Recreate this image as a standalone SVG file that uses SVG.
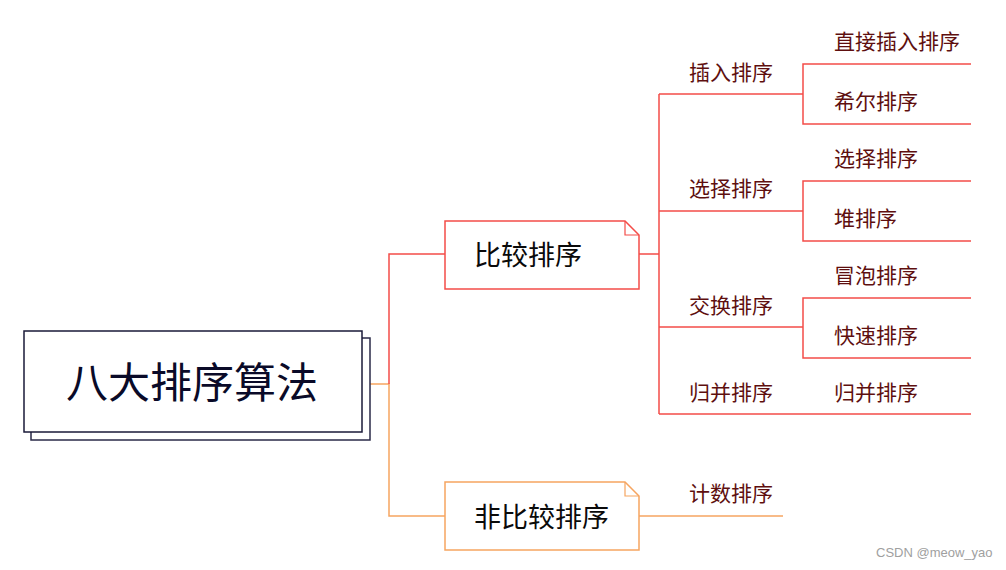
<svg xmlns="http://www.w3.org/2000/svg" width="1006" height="570" viewBox="0 0 1006 570">
<style>
.t{font-family:"Noto Sans CJK SC","Microsoft YaHei",sans-serif;}
.lbl{font-size:21px;fill:#5e0f0f;}
.red{stroke:#f44c48;stroke-width:1.5;fill:none;}
.org{stroke:#f6a560;stroke-width:1.5;fill:none;}
</style>
<rect width="1006" height="570" fill="#ffffff"/>
<g id="connectors">
<path class="org" d="M370 384 H389 V516 H445"/>
<path class="red" d="M389 384 V254 H445"/>
<path class="red" d="M639 254 H659 M659 94 V414"/>
<path class="red" d="M659 94 H803 M659 211 H803 M659 327 H803 M659 414 H971"/>
<path class="red" d="M971 64 H803 V124 H971"/>
<path class="red" d="M971 181 H803 V241 H971"/>
<path class="red" d="M971 298 H803 V358 H971"/>
<path class="org" d="M639 516 H783"/>
</g>
<g id="root">
<rect x="31" y="338" width="339" height="102" fill="#ffffff" stroke="#2a2a48" stroke-width="1.5"/>
<rect x="24" y="331" width="338" height="101" fill="#ffffff" stroke="#1a1a38" stroke-width="1.5"/>
<text class="t" x="192" y="398" font-size="42" text-anchor="middle" fill="#0a0a28">八大排序算法</text>
</g>
<g id="compare">
<path d="M445 221 H625 L639 235 V289 H445 Z" fill="#ffffff" stroke="#f44c48" stroke-width="1.5"/>
<path d="M625 221 V235 H639" fill="none" stroke="#f44c48" stroke-width="1.2"/>
<text class="t" x="474" y="265" font-size="27" fill="#0a0a0a">比较排序</text>
</g>
<g id="noncompare">
<path d="M445 482 H625 L639 496 V550 H445 Z" fill="#ffffff" stroke="#f6a560" stroke-width="1.5"/>
<path d="M625 482 V496 H639" fill="none" stroke="#f6a560" stroke-width="1.2"/>
<text class="t" x="474" y="527" font-size="27" fill="#0a0a0a">非比较排序</text>
</g>
<g id="insert"><text class="t lbl" x="689" y="80">插入排序</text></g>
<g id="select"><text class="t lbl" x="689" y="196">选择排序</text></g>
<g id="exchange"><text class="t lbl" x="689" y="313">交换排序</text></g>
<g id="merge"><text class="t lbl" x="689" y="400">归并排序</text></g>
<g id="direct"><text class="t lbl" x="834" y="49">直接插入排序</text></g>
<g id="shell"><text class="t lbl" x="834" y="109">希尔排序</text></g>
<g id="selsort"><text class="t lbl" x="834" y="166">选择排序</text></g>
<g id="heap"><text class="t lbl" x="834" y="226">堆排序</text></g>
<g id="bubble"><text class="t lbl" x="834" y="283">冒泡排序</text></g>
<g id="quick"><text class="t lbl" x="834" y="343">快速排序</text></g>
<g id="merge2"><text class="t lbl" x="834" y="400">归并排序</text></g>
<g id="count"><text class="t lbl" x="689" y="501">计数排序</text></g>
<text x="876" y="557" font-family="Liberation Sans,Arial,sans-serif" font-size="13" fill="#a0a0a0">CSDN @meow_yao</text>
</svg>
